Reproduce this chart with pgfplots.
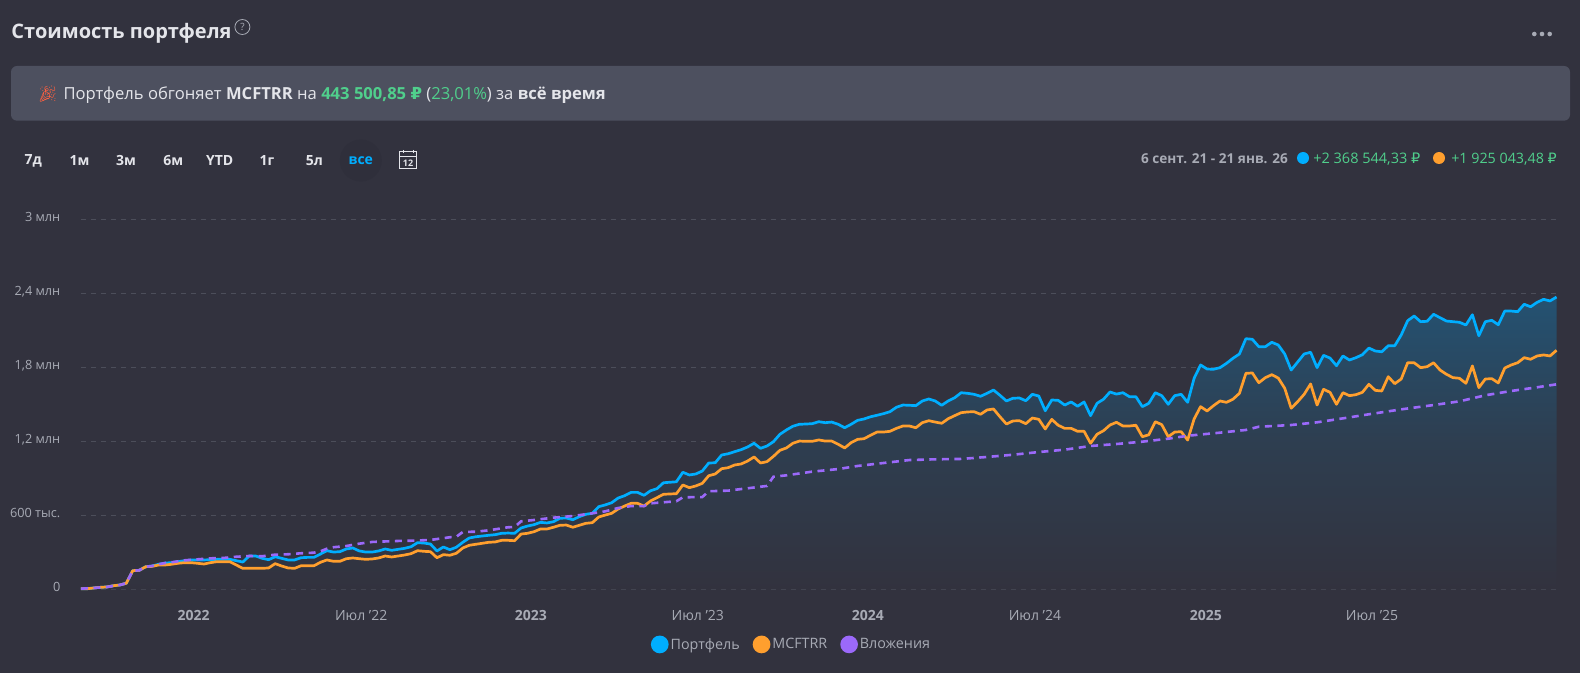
\documentclass[border=0pt]{standalone}
\usepackage{fontspec}
\usepackage{pgfplots}
\usepackage{pgfplotstable}
\pgfplotsset{compat=1.18}
\setmainfont{Open Sans}
\newfontfamily\rubf{DejaVu Sans}
\newfontfamily\emojif{Noto Emoji}
\newcommand\Rub{{\rubf ₽}}
\newcommand\fs[1]{\fontsize{#1}{#1}\selectfont}
\definecolor{bg}{HTML}{32323E}
\definecolor{banner}{HTML}{4D505F}
\definecolor{pblue}{HTML}{00AEFF}
\definecolor{porange}{HTML}{FF9F2E}
\definecolor{ppurple}{HTML}{9B69FA}
\definecolor{pgreen}{HTML}{50CF8C}
\definecolor{tgray}{HTML}{A8ABB5}
\definecolor{tlight}{HTML}{E4E5EA}
\definecolor{gridc}{HTML}{4C4E5A}
\definecolor{areatop}{HTML}{245272}
\definecolor{areamid}{HTML}{2E3E50}
\pgfplotstableread{
i pf mc
0 5 5
1 5 5
2 11 11
3 16 16
4 19 19
5 29 29
6 35 35
7 49 49
8 151 151
9 154 154
10 183 183
11 189 186
12 203 197
13 213 197
14 216 203
15 224 211
16 232 216
17 238 216
18 238 211
19 238 205
20 240 216
21 243 224
22 243 224
23 243 224
24 232 197
25 221 170
26 270 170
27 270 170
28 251 170
29 240 173
30 264 208
31 251 189
32 238 173
33 238 170
34 256 191
35 259 191
36 259 191
37 286 219
38 313 238
39 302 227
40 305 227
41 327 248
42 335 254
43 311 248
44 302 243
45 302 246
46 311 254
47 327 270
48 316 262
49 324 270
50 332 278
51 345 289
52 378 313
53 375 308
54 367 305
55 311 256
56 343 281
57 321 276
58 341 292
59 381 335
60 416 357
61 426 365
62 432 373
63 438 381
64 443 384
65 454 397
66 456 397
67 454 394
68 497 448
69 513 454
70 524 467
71 543 489
72 538 489
73 548 503
74 576 519
75 578 521
76 564 503
77 589 519
78 608 535
79 616 540
80 670 586
81 684 602
82 702 616
83 740 651
84 759 675
85 786 697
86 786 697
87 762 675
88 799 716
89 816 743
90 864 770
91 868 773
92 872 775
93 949 846
94 927 824
95 935 838
96 959 859
97 1024 921
98 1026 935
99 1089 978
100 1099 986
101 1116 1008
102 1132 1016
103 1154 1040
104 1184 1073
105 1143 1024
106 1162 1035
107 1197 1078
108 1257 1127
109 1292 1146
110 1322 1184
111 1338 1202
112 1340 1200
113 1343 1200
114 1359 1211
115 1351 1202
116 1356 1202
117 1338 1176
118 1310 1146
119 1338 1189
120 1370 1216
121 1381 1221
122 1399 1249
123 1411 1275
124 1424 1275
125 1440 1281
126 1476 1305
127 1494 1324
128 1492 1324
129 1489 1310
130 1527 1351
131 1543 1367
132 1527 1356
133 1492 1346
134 1527 1383
135 1553 1408
136 1594 1432
137 1589 1438
138 1581 1440
139 1565 1419
140 1589 1454
141 1616 1462
142 1573 1399
143 1527 1340
144 1549 1365
145 1551 1367
146 1529 1343
147 1581 1389
148 1567 1378
149 1448 1300
150 1535 1378
151 1532 1330
152 1494 1305
153 1519 1305
154 1484 1281
155 1519 1281
156 1408 1184
157 1508 1257
158 1541 1286
159 1600 1332
160 1583 1354
161 1594 1324
162 1562 1324
163 1562 1330
164 1481 1237
165 1508 1253
166 1594 1359
167 1570 1335
168 1500 1237
169 1570 1275
170 1581 1278
171 1516 1210
172 1711 1381
173 1819 1481
174 1786 1446
175 1784 1489
176 1797 1527
177 1832 1516
178 1873 1541
179 1908 1589
180 2032 1751
181 2027 1754
182 1967 1675
183 1967 1716
184 2003 1740
185 1981 1713
186 1908 1630
187 1778 1468
188 1843 1521
189 1908 1581
190 1922 1665
191 1797 1494
192 1897 1622
193 1875 1597
194 1813 1500
195 1892 1594
196 1859 1570
197 1878 1578
198 1902 1597
199 1956 1662
200 1932 1613
201 1926 1608
202 1975 1724
203 1975 1667
204 2062 1705
205 2178 1837
206 2216 1837
207 2170 1797
208 2173 1805
209 2230 1837
210 2202 1778
211 2175 1743
212 2170 1716
213 2165 1711
214 2143 1670
215 2226 1811
216 2056 1635
217 2170 1705
218 2181 1708
219 2145 1673
220 2256 1794
221 2256 1819
222 2251 1837
223 2311 1878
224 2291 1865
225 2327 1892
226 2351 1900
227 2338 1892
228 2370 1938
}\portfolio
\pgfplotstableread{
i inv
0 5
2 11
4 19
6 35
7 49
8 151
9 154
10 183
11 189
12 203
13 213
14 219
15 227
16 235
17 239
18 243
19 247
20 251
22 254
24 264
26 270
28 268
30 281
32 284
34 292
36 297
37 308
38 329
39 341
41 351
43 370
45 384
49 392
51 394
54 400
57 422
58 426
59 465
61 467
63 478
66 503
67 505
68 551
70 562
73 581
76 594
79 616
81 632
83 659
85 675
87 675
88 697
92 714
93 746
96 748
97 795
100 800
103 819
106 838
107 913
109 924
113 954
117 975
120 1000
124 1024
128 1048
132 1054
136 1057
140 1073
144 1091
148 1113
152 1132
156 1162
160 1178
164 1197
168 1221
171 1245
176 1270
180 1292
182 1318
187 1332
191 1354
195 1386
199 1419
204 1459
209 1494
213 1524
217 1573
221 1608
225 1638
228 1662
}\invested
\begin{document}
\begin{tikzpicture}
\fill[bg] (0pt,0pt) rectangle (1580pt,673pt);
\begin{scope}[x=1pt,y=-1pt,shift={(0pt,673pt)}]
% title
\node[anchor=base west,inner sep=0,text=tlight] at (11.3,38.8) {\fs{20}\bfseries Стоимость портфеля};
\draw[tgray,line width=0.8pt] (242.4,27) circle (7.5);
\node[text=tgray,inner sep=0] at (242.4,27) {\fs{10}?};
\foreach \x in {1534.3,1542,1549.7} \fill[tgray] (\x,34) circle (2.3);
% banner
\fill[banner,rounded corners=6pt] (11,66) rectangle (1570,120.7);
\node[anchor=base west,inner sep=0,text=orange!75!magenta] at (37.5,100) {\fs{16}\emojif 🎉};
\node[anchor=base west,inner sep=0,text=tlight] at (63.3,99.5) {\fs{16.6}Портфель обгоняет \textbf{MCFTRR} на \textcolor{pgreen}{\textbf{443 500,85 \Rub}} (\textcolor{pgreen}{23,01\%}) за \textbf{всё время}};
% range buttons
\fill[black!5!bg] (360.8,160.5) circle (21);
\foreach \x/\t in {33.3/7д,79.6/1м,126/3м,173.3/6м,219.7/YTD,267/1г,314.4/5л}
  \node[text=tlight,inner sep=0] at (\x,160.5) {\fs{14}\bfseries \t};
\node[text=pblue,inner sep=0] at (360.8,160.5) {\fs{14}\bfseries все};
% calendar icon
\draw[tlight,line width=1pt] (399.5,152) rectangle (416.5,169);
\draw[tlight,line width=1pt] (399.5,156.5) -- (416.5,156.5);
\draw[tlight,line width=1pt] (403,150) -- (403,153.5) (413,150) -- (413,153.5);
\node[text=tlight,inner sep=0] at (408,163) {\fs{9}\bfseries 12};
% right summary
\node[anchor=base east,inner sep=0,text=tgray] at (1288,164) {\fs{13.6}\bfseries 6 сент. 21 - 21 янв. 26};
\fill[pblue] (1303,158) circle (6);
\node[anchor=base east,inner sep=0,text=pgreen] at (1420.5,164) {\fs{14.5}+2 368 544,33 \Rub};
\fill[porange] (1439,158) circle (6);
\node[anchor=base east,inner sep=0,text=pgreen] at (1557,164) {\fs{14.3}+1 925 043,48 \Rub};
\end{scope}
\begin{axis}[
  at={(81pt,83.7pt)},anchor=south west,
  scale only axis,width=1475.5pt,height=370pt,
  xmin=0,xmax=228,ymin=0,ymax=3000,
  clip=false,
  axis line style={draw=none},
  major tick length=0pt,
  tick style={draw=none},
  ymajorgrids,
  grid style={draw=gridc,line width=1pt,dash pattern=on 5pt off 5pt},
  ytick={0,600,1200,1800,2400,3000},
  yticklabels={0,600 тыс.,{1,2 млн},{1,8 млн},{2,4 млн},3 млн},
  yticklabel style={anchor=east,inner sep=0pt,xshift=-20.5pt,yshift=2pt,text=tgray,font=\fs{12.7}},
  xtick={17.4,43.3,69.5,95.3,121.6,147.4,173.8,199.5},
  xticklabels={\textbf{2022},Июл '22,\textbf{2023},Июл '23,\textbf{2024},Июл '24,\textbf{2025},Июл '25},
  xticklabel style={anchor=center,inner sep=0pt,yshift=-26.4pt,text=tgray,font=\fs{14}},
  legend style={at={(0.4815,-0.149)},anchor=center,draw=none,fill=none,text=tgray,font=\fs{14.3},
    legend columns=3,/tikz/every even column/.append style={column sep=11pt}},
  legend cell align=left,
  legend image code/.code={\fill[#1,solid] (0pt,0pt) circle (7.5pt);},
]
\addplot[draw=none,top color=areatop,bottom color=bg,middle color=areamid,forget plot] table[x=i,y=pf]{\portfolio} \closedcycle;
\addplot[pblue,line width=2.7pt,line join=round,fill=none] table[x=i,y=pf]{\portfolio};
\addlegendentry{Портфель}
\addplot[porange,line width=2.7pt,line join=round] table[x=i,y=mc]{\portfolio};
\addlegendentry{MCFTRR}
\addplot[ppurple,line width=2.6pt,dash pattern=on 7pt off 5.5pt] table[x=i,y=inv]{\invested};
\addlegendentry{Вложения}
\end{axis}
\end{tikzpicture}
\end{document}
